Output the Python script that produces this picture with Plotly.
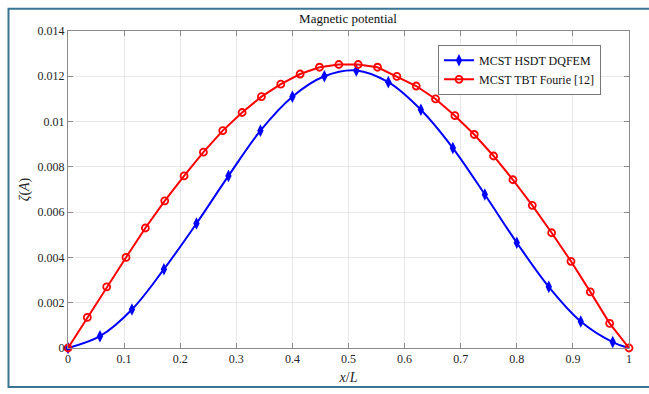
import plotly.graph_objects as go

# Red series: MCST TBT Fourie [12] (x = k/29)
red_x = [k / 29 for k in range(30)]
red_y = [0.0, 0.00135, 0.0027, 0.0040, 0.0053, 0.0065, 0.0076, 0.00865, 0.0096, 0.0104,
         0.0111, 0.01165, 0.0121, 0.0124, 0.01252, 0.01252, 0.0124, 0.0120, 0.01157, 0.0110,
         0.01026, 0.00943, 0.00848, 0.00743, 0.0063, 0.00509, 0.00383, 0.00248, 0.00109, 0.0]

# Blue series: MCST HSDT DQFEM
blue_x = [0.0, 0.057, 0.114, 0.171, 0.229, 0.286, 0.343, 0.4, 0.457, 0.514,
          0.571, 0.629, 0.686, 0.743, 0.8, 0.857, 0.914, 0.971, 1.0]
blue_y = [0.0, 0.00052, 0.0017, 0.00348, 0.0055, 0.0076, 0.0096, 0.0111, 0.0120, 0.01226,
          0.01174, 0.01052, 0.00883, 0.00678, 0.00465, 0.0027, 0.00117, 0.00026, 0.0]
blue_marker_count = 18  # markers on all but the last point

x_ticks = [0, 0.1, 0.2, 0.3, 0.4, 0.5, 0.6, 0.7, 0.8, 0.9, 1]
x_ticktext = ["0", "0.1", "0.2", "0.3", "0.4", "0.5", "0.6", "0.7", "0.8", "0.9", "1"]
y_ticks = [0, 0.002, 0.004, 0.006, 0.008, 0.01, 0.012, 0.014]
y_ticktext = ["0", "0.002", "0.004", "0.006", "0.008", "0.01", "0.012", "0.014"]

BLUE = "#0000ff"
RED = "#ff0000"
FONT = "Liberation Serif"

fig = go.Figure()
fig.add_trace(go.Scatter(x=blue_x, y=blue_y, mode="lines", line=dict(color=BLUE, width=2, shape="spline"),
                         showlegend=False, cliponaxis=False, hoverinfo="skip"))
fig.add_trace(go.Scatter(x=blue_x[:blue_marker_count], y=blue_y[:blue_marker_count], mode="markers",
                         marker=dict(symbol="diamond-tall", size=9, color=BLUE),
                         showlegend=False, cliponaxis=False))
fig.add_trace(go.Scatter(x=[None], y=[None], mode="lines+markers", name="MCST HSDT DQFEM",
                         line=dict(color=BLUE, width=2),
                         marker=dict(symbol="diamond-tall", size=9, color=BLUE)))
fig.add_trace(go.Scatter(x=red_x, y=red_y, mode="lines+markers", name="MCST TBT Fourie [12]",
                         line=dict(color=RED, width=2),
                         marker=dict(symbol="circle-open", size=7, color=RED, line=dict(width=1.8, color=RED)),
                         cliponaxis=False))

axis_common = dict(showline=True, linecolor="#8a8a8a", linewidth=1, mirror="allticks",
                   ticks="inside", ticklen=5, tickcolor="#8a8a8a",
                   showgrid=True, gridcolor="#e8e8e8", gridwidth=1, zeroline=False,
                   tickfont=dict(family=FONT, size=12, color="#262626"))

fig.update_layout(
    width=649, height=394,
    margin=dict(l=68, r=20, t=31, b=41),
    paper_bgcolor="white", plot_bgcolor="white",
    font=dict(family=FONT),
    title=dict(text="Magnetic potential", x=(348) / 649, xanchor="center", y=1 - 18 / 394, yanchor="middle",
               font=dict(family=FONT, size=13, color="#111111")),
    xaxis=dict(range=[0, 1], tickvals=x_ticks, ticktext=x_ticktext,
               title=dict(text="<i>x</i>/<i>L</i>", font=dict(family=FONT, size=14, color="#262626"), standoff=6),
               **axis_common),
    yaxis=dict(range=[0, 0.014], tickvals=y_ticks, ticktext=y_ticktext,
               title=dict(text="<i>ζ</i>(<i>A</i>)", font=dict(family=FONT, size=14, color="#262626"), standoff=4),
               **axis_common),
    legend=dict(x=(601 - 68) / 561, y=(353 - 45) / 322, xanchor="right", yanchor="top",
                bgcolor="white", bordercolor="#777777", borderwidth=1,
                font=dict(family=FONT, size=12, color="#111111"),
                tracegroupgap=0, itemwidth=30),
    shapes=[dict(type="rect", xref="paper", yref="paper",
                 x0=(8.5 - 68) / 561, x1=(700 - 68) / 561,
                 y0=(353 - 392.5) / 322, y1=(353 - 8.5) / 322,
                 line=dict(color="#3b7594", width=2), fillcolor="rgba(0,0,0,0)", layer="below")],
)

fig.write_html("out.html")
